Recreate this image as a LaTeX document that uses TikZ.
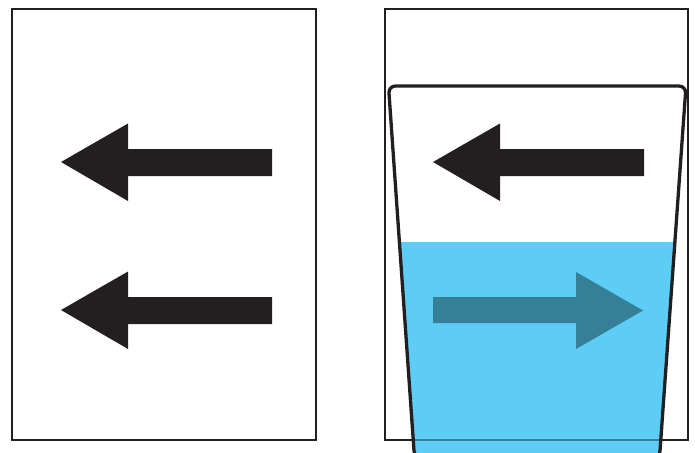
\documentclass[tikz,border=0pt]{standalone}
\usepackage{tikz}

\definecolor{inkblack}{HTML}{231F20}
\definecolor{waterblue}{HTML}{5ECDF5}
\definecolor{deepteal}{HTML}{367F99}

\begin{document}
\begin{tikzpicture}[
  x=1pt,y=-1pt,
  frame/.style={draw=inkblack,line width=2.6pt},
  glass/.style={draw=inkblack,line width=3.3pt,rounded corners=7pt},
  water/.style={fill=waterblue},
  arrowfill/.style={fill=inkblack}
]
\useasboundingbox (0,0) rectangle (695,452);
\clip (0,0) rectangle (695,452);

% the two frames
\draw[frame] (12,9) rectangle (316,440);
\draw[frame] (385,9) rectangle (688,440);

% arrows pointing left
\foreach \dx/\dy in {0/0, 0/148, 372/0}
  \fill[arrowfill,shift={(\dx,\dy)}] (61,162) -- (128,123.5) -- (128,149) -- (272,149)
    -- (272,176) -- (128,176) -- (128,201) -- cycle;

% water in the glass
\fill[water] (400,242) -- (674.5,242) -- (659.5,458) -- (414.5,458) -- cycle;
\begin{scope}
  \clip (400,242) -- (674.5,242) -- (659.5,458) -- (414.5,458) -- cycle;
  \draw[frame,draw=deepteal] (385,440) -- (688,440);
\end{scope}

% arrow seen through the water
\fill[deepteal] (643,310.5) -- (576,272) -- (576,297) -- (433,297)
  -- (433,323) -- (576,323) -- (576,349) -- cycle;

% glass
\draw[glass] (414.5,458) -- (388.5,86) -- (686,86) -- (659.5,458) -- cycle;

\end{tikzpicture}
\end{document}
